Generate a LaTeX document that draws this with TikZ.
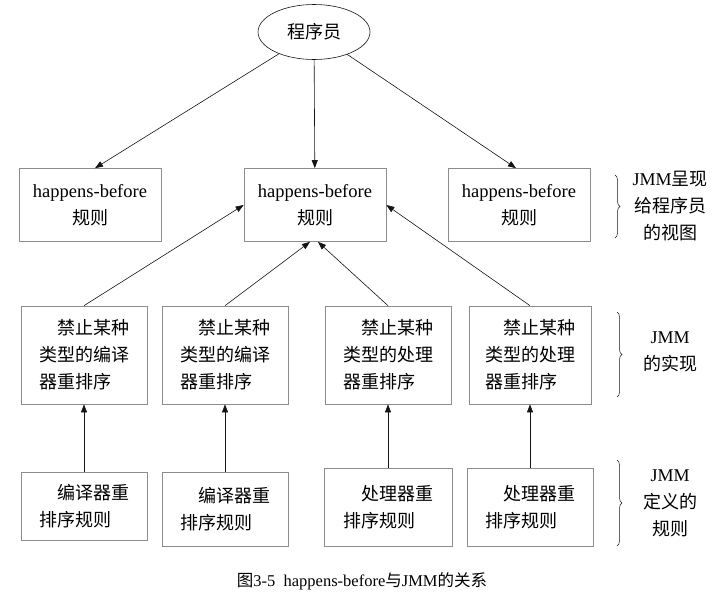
\documentclass[tikz,border=0pt]{standalone}
\usepackage{fontspec}
\setmainfont{Liberation Serif}
\newfontfamily\cjk{Noto Sans CJK SC}
\newcommand{\zh}[1]{{\cjk #1}}
\usepackage{tikz}
\usetikzlibrary{arrows.meta, shapes.geometric, decorations.pathreplacing}
\definecolor{boxgrey}{RGB}{140,140,140}
\definecolor{inkblack}{RGB}{20,20,20}

\begin{document}
\begin{tikzpicture}[x=1pt, y=-1pt, font=\fontsize{18}{27}\selectfont,
    >={Triangle[length=8pt, width=6pt]},
    rulebox/.style={draw=boxgrey, line width=0.7pt, minimum width=142pt, minimum height=73pt, align=center, inner sep=0pt},
    implbox/.style={draw=boxgrey, line width=0.7pt, minimum height=98pt, align=left, inner sep=0pt},
    defbox/.style={draw=boxgrey, line width=0.7pt, align=left, inner sep=0pt},
    link/.style={->, inkblack, line width=0.6pt}]
  \useasboundingbox (0,0) rectangle (719,598);

  % programmer
  \node[ellipse, draw=inkblack, line width=0.6pt, minimum width=112pt, minimum height=55pt, inner sep=0pt] (prog) at (314,32) {\zh{程序员}};

  % top row: happens-before rules
  \foreach \n/\x in {rulL/90, rulM/315, rulR/519}
    \node[rulebox] (\n) at (\x,205) {\fontsize{18.5}{27}\selectfont happens-before\\\zh{规则}};

  % middle row: what JMM forbids
  \foreach \n/\x/\w/\kind in {implA/84/126/{编译}, implB/225/126/{编译},
                              implC/388/126/{处理}, implD/530/122/{处理}}
    \node[implbox, minimum width=\w pt] (\n) at (\x,355)
      {\hspace*{1em}\zh{禁止某种}\\\zh{类型的\kind}\\\zh{器重排序}};

  % bottom row: reordering rules
  \foreach \n/\x/\y/\w/\h/\kind in {defA/84/506/126/68/{编译},  defB/225/509/126/74/{编译},
                                    defC/388/507/128/78/{处理}, defD/530/507/126/78/{处理}}
    \node[defbox, minimum width=\w pt, minimum height=\h pt] (\n) at (\x,\y)
      {\hspace*{1em}\zh{\kind 器重}\\\zh{排序规则}};

  % arrows
  \draw[link] (prog) -- ([xshift=5pt]rulL.north);
  \draw[link] (prog) -- (rulM);
  \draw[link] (prog) -- ([xshift=-3pt]rulR.north);
  \draw[link] (implA.north) -- (rulM.west);
  \draw[link] (implB.north) -- ([xshift=-5pt]rulM.south);
  \draw[link] (implC.north) -- ([xshift=3pt]rulM.south);
  \draw[link] (implD.north) -- (rulM.east);
  \foreach \c in {A,B,C,D}
    \draw[link] (def\c.north) -- (impl\c.south);

  % braces and their labels
  \draw[inkblack, line width=0.5pt, decorate, decoration={brace, amplitude=5pt}] (615,175) -- (615,238);
  \draw[inkblack, line width=0.5pt, decorate, decoration={brace, amplitude=5pt}] (617,312) -- (617,397);
  \draw[inkblack, line width=0.5pt, decorate, decoration={brace, amplitude=5pt}] (617,460) -- (617,546);
  \node[align=center] (viewlbl) at (670,206) {JMM\zh{呈现}\\\zh{给程序员}\\\zh{的视图}};
  \node[align=center] (impllbl) at (670,352) {JMM\\\zh{的实现}};
  \node[align=center] (deflbl) at (670,503) {JMM\\\zh{定义的}\\\zh{规则}};

  % caption
  \node (cap) at (362,581) {\fontsize{16.5}{20}\selectfont\zh{图}3-5\hspace{0.5em}happens-before\zh{与}JMM\zh{的关系}};
\end{tikzpicture}
\end{document}
